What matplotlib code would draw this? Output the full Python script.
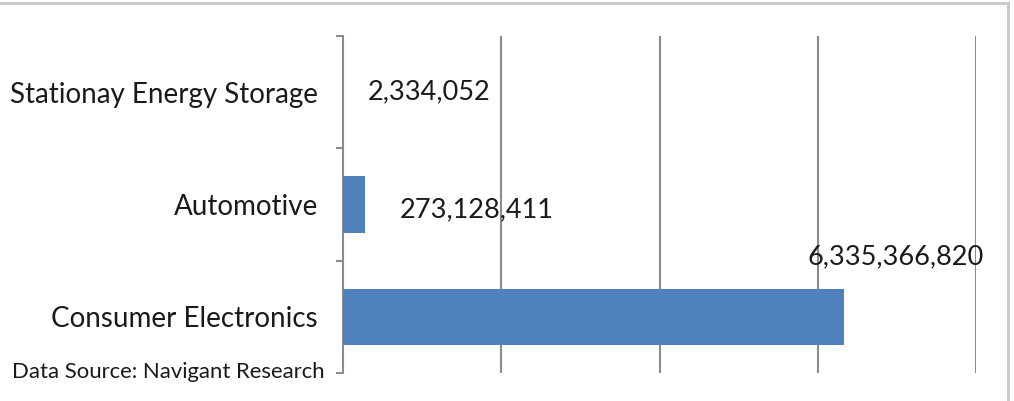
import matplotlib
matplotlib.use("Agg")
import matplotlib.pyplot as plt
from matplotlib.lines import Line2D

categories = ["Consumer Electronics", "Automotive", "Stationay Energy Storage"]
values = [6335366820, 273128411, 2334052]
value_labels = ["6,335,366,820", "273,128,411", "2,334,052"]
source_note = "Data Source: Navigant Research"

plt.rcParams['font.family'] = ['Lato', 'DejaVu Sans']

W, H = 1014, 401
fig = plt.figure(figsize=(W / 100, H / 100), dpi=100)
ax = fig.add_axes([343 / W, (H - 373) / H, (976 - 343) / W, (373 - 36) / H])

pos = list(range(len(categories)))
ax.barh(pos, values, height=0.5, color="#4F81BD", zorder=3)

ax.set_xlim(0, 8e9)
ax.set_ylim(-0.5, 2.5)
ax.set_xticks([2e9, 4e9, 6e9, 8e9])
ax.tick_params(axis="x", length=0, labelbottom=False)
ax.grid(axis="x", color="#8c8c8c", linewidth=1.5, zorder=0)

ax.set_yticks([-0.5, 0.5, 1.5, 2.5])
ax.set_yticklabels([])
ax.tick_params(axis="y", which="major", length=5, width=1.5, color="#8c8c8c")
ax.set_yticks(pos, minor=True)
ax.set_yticklabels(categories, minor=True, fontsize=20, color="#1a1a1a")
ax.tick_params(axis="y", which="minor", length=0, pad=18)

for s in ["top", "right", "bottom"]:
    ax.spines[s].set_visible(False)
ax.spines["left"].set_color("#8c8c8c")
ax.spines["left"].set_linewidth(1.5)

# data labels, placed like the Excel original
ax.text(3.16e8, 2.0, value_labels[2], fontsize=19.5, va="center", ha="left", color="#1a1a1a")
ax.text(7.2e8, 0.95, value_labels[1], fontsize=19.5, va="center", ha="left", color="#1a1a1a")
ax.text(6.98e9, 0.53, value_labels[0], fontsize=19.5, va="center", ha="center", color="#1a1a1a")

fig.text(12 / W, (H - 372) / H, source_note, fontsize=15.9, va="center", ha="left", color="#1a1a1a")

# chart border (top and right visible in the crop)
fig.add_artist(Line2D([0, 1008 / W], [1 - 3 / H, 1 - 3 / H], color="#c8c8c8", linewidth=2))
fig.add_artist(Line2D([1008 / W, 1008 / W], [0, 1 - 3 / H], color="#c8c8c8", linewidth=2))

fig.savefig("out.png", dpi=100)
